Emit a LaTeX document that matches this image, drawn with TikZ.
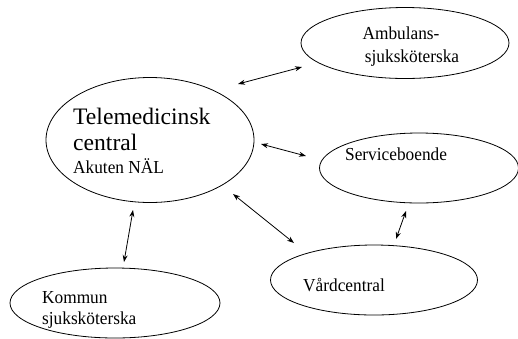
\documentclass[tikz,border=0pt]{standalone}
\usepackage{fontspec}
\setmainfont{Liberation Serif}
\usetikzlibrary{shapes.geometric,arrows.meta}
\tikzset{
  bubble/.style={draw, ellipse, line width=0.8pt, inner sep=0pt},
  lbl/.style={inner sep=0pt, font=\fontsize{18.3}{21}\selectfont, xscale=0.945, transform shape},
  biglbl/.style={inner sep=0pt, font=\fontsize{23.6}{22}\selectfont},
  link/.style={line width=0.8pt, {Stealth[length=7pt,width=5pt]}-{Stealth[length=7pt,width=5pt]}}
}
\begin{document}
\begin{tikzpicture}[x=1pt,y=-1pt]
\useasboundingbox (0,0) rectangle (518,338);
\begin{scope}
\clip (0,0) rectangle (518,338);
% ellipses
\node[bubble, minimum width=208pt, minimum height=125pt] (tele) at (150,140) {};
\node[bubble, minimum width=210pt, minimum height=70pt] (kommun) at (115,303) {};
\node[bubble, minimum width=208pt, minimum height=71pt] (amb) at (405,43) {};
\node[bubble, minimum width=199pt, minimum height=70pt] (serv) at (419,168) {};
\node[bubble, minimum width=207pt, minimum height=70pt] (vard) at (374,280) {};
\end{scope}
% texts
\node[biglbl, anchor=base west] (t1) at (73,124) {Telemedicinsk};
\node[biglbl, anchor=base west] (t2) at (73,150) {central};
\node[lbl, anchor=base west] (t3) at (73,173) {Akuten NÄL};
\node[lbl, anchor=base west] (k1) at (42,303) {Kommun};
\node[lbl, anchor=base west] (k2) at (42,324) {sjuksköterska};
\node[lbl, anchor=base] (a1) at (401,39) {Ambulans-};
\node[lbl, anchor=base] (a2) at (412,62) {sjuksköterska};
\node[lbl, anchor=base west] (s1) at (345,160) {Serviceboende};
\node[lbl, anchor=base west] (v1) at (303,291) {Vårdcentral};
% arrow end points
\coordinate (ta) at (238,84);
\coordinate (at) at (302,67);
\coordinate (ts) at (261,144);
\coordinate (st) at (306,156);
\coordinate (tv) at (233,194);
\coordinate (vt) at (294,243);
\coordinate (tk) at (133,210);
\coordinate (kt) at (124,262);
\coordinate (sv) at (406,211);
\coordinate (vs) at (396,239);
% connectors
\draw[link] (ta) -- (at);
\draw[link] (ts) -- (st);
\draw[link] (tv) -- (vt);
\draw[link] (tk) -- (kt);
\draw[link] (sv) -- (vs);
\end{tikzpicture}
\end{document}
